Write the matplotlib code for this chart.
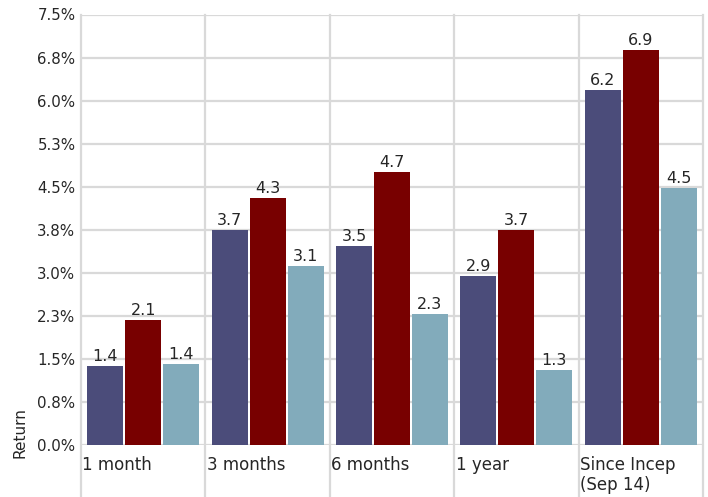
import matplotlib
matplotlib.use("Agg")
import matplotlib.pyplot as plt
import matplotlib.transforms as mtransforms
import numpy as np

categories = ["1 month", "3 months", "6 months", "1 year", "Since Incep\n(Sep 14)"]
series_a = [1.38, 3.75, 3.47, 2.94, 6.18]
series_b = [2.18, 4.30, 4.76, 3.75, 6.88]
series_c = [1.41, 3.12, 2.28, 1.31, 4.48]
labels_a = ["1.4", "3.7", "3.5", "2.9", "6.2"]
labels_b = ["2.1", "4.3", "4.7", "3.7", "6.9"]
labels_c = ["1.4", "3.1", "2.3", "1.3", "4.5"]
yticks = [0, 0.75, 1.5, 2.25, 3.0, 3.75, 4.5, 5.25, 6.0, 6.75, 7.5]
ytick_labels = ["0.0%", "0.8%", "1.5%", "2.3%", "3.0%", "3.8%", "4.5%", "5.3%", "6.0%", "6.8%", "7.5%"]

colors = ["#4b4c7a", "#780000", "#82abbb"]
grid_c = "#d9d9d9"
text_c = "#262626"

plt.rcParams['font.family'] = ['DejaVu Sans']

fig = plt.figure(figsize=(7.08, 4.97), dpi=100)
ax = fig.add_axes([81/708, 1-445/497, 622/708, 430.5/497])

x = np.arange(len(categories))
w = 0.29
step = 0.305
for j, (vals, labs) in enumerate([(series_a, labels_a), (series_b, labels_b), (series_c, labels_c)]):
    pos = x + 0.5 + (j - 1) * step
    ax.bar(pos, vals, width=w, color=colors[j], zorder=3)
    for p, v, l in zip(pos, vals, labs):
        ax.annotate(l, (p, v), xytext=(0, 1.5), textcoords="offset points",
                    ha="center", va="bottom", color=text_c, fontsize=11.5)

ax.set_xlim(0, len(categories))
ax.set_ylim(0, 7.5)
ax.set_yticks(yticks)
ax.set_yticklabels(ytick_labels, color=text_c, fontsize=10.8)
ax.tick_params(axis="y", length=0, pad=4)
ax.set_xticks([])
ax.yaxis.grid(True, color=grid_c, lw=1.6, zorder=0)
for s in ax.spines.values():
    s.set_visible(False)

for i in range(len(categories) + 1):
    ax.axvline(i, ymin=-0.13, ymax=1, color=grid_c, lw=1.6, clip_on=False, zorder=0)

trans = mtransforms.blended_transform_factory(ax.transData, ax.transAxes)
for i, c in enumerate(categories):
    ax.text(i + 0.012, -0.025, c, transform=trans, ha="left", va="top",
            color=text_c, fontsize=12, linespacing=1.15)

fig.text(20/708, 1-433/497, "Return", rotation=90, ha="center", va="center",
         color=text_c, fontsize=11)

fig.savefig("out.png", dpi=100)
